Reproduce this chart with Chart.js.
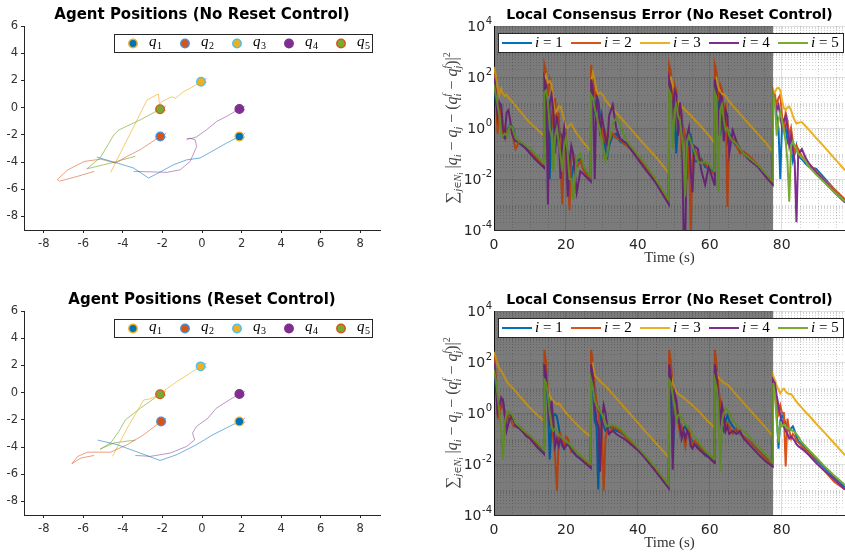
<!DOCTYPE html>
<html>
<head>
<meta charset="utf-8">
<script src="https://cdn.jsdelivr.net/npm/chart.js@4.4.1/dist/chart.umd.min.js"></script>
<style>
html,body{margin:0;padding:0;background:#fff;overflow:hidden}
#wrap{position:relative;width:845px;height:556px;overflow:hidden;background:#fff}
.box{position:absolute}
canvas{display:block}
</style>
</head>
<body>
<div id="wrap">
  <div class="box" style="left:0;top:0"><canvas id="posTop" width="400" height="280"></canvas></div>
  <div class="box" style="left:420px;top:0"><canvas id="errTop" width="425" height="280"></canvas></div>
  <div class="box" style="left:0;top:285px"><canvas id="posBot" width="400" height="280"></canvas></div>
  <div class="box" style="left:420px;top:285px"><canvas id="errBot" width="425" height="280"></canvas></div>
</div>
<script>
// ---- agent trajectories, no reset control (x / y per agent) ----
const q1xTop = [-5.32, -4.28, -3.45, -2.7, -2.2, -1.44, -0.77, -0.1, 0.4, 1.24, 1.89];
const q1yTop = [-3.64, -4.08, -4.45, -5.18, -4.8, -4.2, -3.84, -3.71, -3.3, -2.61, -2.12];
const q2xTop = [-5.45, -6.28, -7.2, -7.32, -6.78, -5.95, -5.12, -4.37, -3.78, -3.12, -2.62, -2.11];
const q2yTop = [-4.69, -5.05, -5.41, -5.29, -4.57, -3.96, -3.79, -4.08, -3.58, -3.09, -2.61, -2.12];
const q3xTop = [-4.62, -3.45, -2.78, -2.2, -2.15, -2.03, -1.52, -1.35, -0.94, -0.6, -0.05];
const q3yTop = [-4.76, -1.39, 0.56, 1.0, 0.2, 0.44, 0.8, 0.68, 1.17, 1.42, 1.9];
const q4xTop = [-3.45, -1.77, -1.1, -0.6, -0.27, -0.35, -0.6, -0.77, -0.5, -0.27, 0.23, 0.74, 1.3, 1.89];
const q4yTop = [-4.69, -4.76, -4.57, -3.96, -2.86, -2.37, -2.25, -2.32, -2.26, -2.15, -1.63, -1.02, -0.6, -0.1];
const q5xTop = [-3.37, -4.62, -5.82, -5.13, -4.46, -4.2, -3.12, -2.12];
const q5yTop = [-3.58, -4.08, -4.5, -3.66, -2.0, -1.64, -0.9, -0.12];

// ---- agent trajectories, reset control ----
const q1xBot = [-5.28, -4.28, -3.12, -2.12, -1.28, -0.28, 0.55, 1.38, 1.89];
const q1yBot = [-3.49, -3.83, -4.45, -4.99, -4.57, -3.83, -3.1, -2.49, -2.12];
const q2xBot = [-5.45, -6.12, -6.58, -6.28, -5.78, -4.62, -3.78, -2.95, -2.07];
const q2yBot = [-4.62, -4.81, -5.23, -4.69, -4.38, -4.38, -3.83, -3.1, -2.12];
const q3xBot = [-4.53, -3.78, -2.95, -2.7, -2.37, -2.03, -1.28, -0.62, -0.07];
const q3yBot = [-4.69, -2.61, -0.54, -0.49, -0.29, 0.02, 0.8, 1.41, 1.93];
const q4xBot = [-3.37, -2.62, -1.62, -0.78, -0.37, -0.48, -0.28, 0.3, 0.72, 1.38, 1.89];
const q4yBot = [-4.62, -4.69, -4.45, -3.96, -3.47, -2.98, -2.49, -1.88, -1.15, -0.54, -0.1];
const q5xBot = [-3.37, -4.45, -5.15, -4.62, -4.2, -3.87, -3.12, -2.12];
const q5yBot = [-3.49, -3.7, -4.16, -3.7, -2.85, -2.0, -1.15, -0.12];

// formation targets (the small x marks)
const tgtX = [2.05, -1.93, 0.1, 2.05, -1.95];
const tgtY = [-2.04, -2.04, 2.0, -0.04, -0.05];

const agentLabels = ['q1', 'q2', 'q3', 'q4', 'q5'];
const posXTicks = [-8, -6, -4, -2, 0, 2, 4, 6, 8];
const posYTicks = [-8, -6, -4, -2, 0, 2, 4, 6];

// ---- consensus error: shared time samples (s) ----
const T = [
  0, 0.5, 1, 1.5, 2, 2.5, 3, 3.5, 4, 4.5, 5, 5.5, 6, 7, 8, 9, 10, 12, 13.9,
  14, 14.5, 15, 15.5, 16, 16.5, 17, 17.5, 18, 18.5, 19, 19.5, 20, 20.5, 21, 21.5, 22, 23, 24, 25, 26.9,
  27, 27.5, 28, 28.5, 29, 29.5, 30, 30.5, 31, 31.5, 32, 33, 34, 35, 36, 37, 38, 40, 42, 45, 48.6,
  48.7, 49.2, 49.7, 50.2, 50.7, 51.2, 51.7, 52.2, 52.7, 53.2, 53.7, 54.2, 54.7, 55.2, 55.7, 56.7, 57.7, 58.7, 59.7, 61.3,
  61.4, 61.9, 62.4, 62.9, 63.4, 63.9, 64.4, 64.9, 65.4, 66.4, 67.4, 68.4, 69.4, 71.4, 73.4, 75.4, 77.5,
  77.6, 78.1, 78.6, 79.1, 79.6, 80.1, 80.6, 81.1, 81.6, 82.1, 82.6, 83.1, 83.6, 84.1, 84.6, 85.6, 86.6, 87.6, 89.6, 91.6, 94.6, 97.6
];

// top right panel
const errTop1 = [
  100, 10, 5, 2, 1, 0.5, 0.4, 0.5, 1, 1.3, 1.2, 0.8, 0.4, 0.25, 0.2, 0.15, 0.12, 0.06, 0.03,
  100, 60, 5, 0.01, 2, 8, 1, 0.3, 0.8, 0.6, 0.4, 0.2, 0.3, 0.1, 0.03, 0.01, 0.03, 0.05, 0.06, 0.03, 0.01,
  60, 20, 5, 10, 12, 3, 0.5, 0.8, 0.15, 0.08, 0.2, 0.5, 0.6, 0.3, 0.25, 0.2, 0.15, 0.07, 0.03, 0.008, 0.0012,
  50, 20, 10, 3, 0.1, 2, 1.5, 0.3, 0.8, 0.4, 0.1, 0.3, 0.5, 0.2, 0.05, 0.05, 0.06, 0.03, 0.025, 0.018,
  50, 20, 8, 0.5, 3, 5, 1, 0.3, 0.6, 0.3, 0.2, 0.12, 0.1, 0.06, 0.03, 0.015, 0.007,
  10, 15, 3, 1, 0.01, 1.5, 2, 1, 0.3, 0.5, 0.15, 0.05, 0.1, 0.2, 0.08, 0.06, 0.04, 0.03, 0.025, 0.012, 0.004, 0.0015
];
const errTop2 = [
  200, 30, 0.6, 8, 3, 0.6, 1, 0.5, 0.9, 1.2, 0.8, 0.3, 0.15, 0.3, 0.25, 0.15, 0.12, 0.06, 0.03,
  300, 150, 20, 80, 40, 1, 15, 0.8, 4, 0.05, 0.001, 0.3, 0.5, 0.02, 0.0006, 0.1, 0.08, 0.03, 0.05, 0.02, 0.01,
  300, 100, 20, 25, 5, 2, 1, 0.3, 0.6, 0.25, 0.3, 0.6, 0.4, 0.35, 0.25, 0.2, 0.15, 0.07, 0.03, 0.008, 0.0012,
  300, 150, 8, 50, 30, 2, 8, 0.1, 1, 0.5, 0.01, 0.2, 0.00008, 0.05, 0.15, 0.08, 0.05, 0.04, 0.025, 0.015,
  300, 150, 20, 50, 30, 3, 10, 0.0008, 0.3, 0.4, 0.2, 0.1, 0.12, 0.07, 0.035, 0.016, 0.007,
  30, 20, 8, 15, 20, 3, 1, 4, 2, 0.5, 1, 0.3, 0.1, 0.2, 0.15, 0.08, 0.05, 0.04, 0.02, 0.01, 0.004, 0.0016
];
const errTop3 = [
  250, 120, 40, 20, 35, 22, 18, 20, 16, 13, 11, 9, 7.5, 5, 3.4, 2.3, 1.6, 0.9, 0.5,
  80, 120, 60, 70, 50, 10, 4, 5, 7, 7, 4, 2, 1.1, 1, 1.3, 1.5, 1.1, 0.6, 0.4, 0.25, 0.13,
  60, 150, 80, 30, 20, 25, 22, 18, 12, 10, 8, 5.7, 4, 2.75, 1.9, 1.32, 0.92, 0.44, 0.21, 0.073, 0.017,
  60, 90, 50, 22, 15, 10, 8, 7, 6, 5, 4.3, 3.6, 3.1, 2.6, 2.2, 1.55, 1.1, 0.76, 0.53, 0.27,
  40, 80, 40, 25, 22, 21, 18, 14, 11, 7.5, 5.2, 3.6, 2.5, 1.2, 0.58, 0.28, 0.12,
  30, 25, 35, 38, 30, 12, 6, 5, 6.5, 7, 5, 3, 2, 1.5, 1.6, 1.7, 1.2, 0.85, 0.4, 0.2, 0.066, 0.022
];
const errTop4 = [
  90, 20, 3, 10, 8, 1, 0.5, 4, 5, 2, 0.6, 0.4, 0.3, 0.3, 0.2, 0.15, 0.1, 0.05, 0.028,
  80, 40, 0.001, 10, 20, 5, 0.1, 3, 0.5, 0.01, 0.3, 1, 0.2, 0.002, 0.05, 0.2, 0.1, 0.003, 0.02, 0.015, 0.008,
  80, 30, 0.01, 20, 8, 0.5, 3, 1, 0.4, 0.2, 3, 8, 1, 0.4, 0.3, 0.25, 0.15, 0.06, 0.025, 0.007, 0.001,
  80, 40, 2, 30, 20, 0.5, 10, 3, 0.0001, 0.00008, 0.5, 1, 0.02, 0.003, 0.2, 0.15, 0.02, 0.006, 0.03, 0.006,
  80, 30, 0.5, 20, 15, 0.3, 5, 3, 0.1, 0.8, 0.3, 0.15, 0.1, 0.05, 0.03, 0.013, 0.006,
  20, 10, 5, 8, 3, 1, 2, 3, 1, 0.2, 0.5, 0.15, 0.05, 0.0002, 0.1, 0.15, 0.07, 0.04, 0.018, 0.009, 0.003, 0.0012
];
const errTop5 = [
  50, 20, 8, 3, 0.6, 0.5, 0.6, 0.5, 0.8, 1.2, 1.1, 0.7, 0.4, 0.3, 0.25, 0.2, 0.17, 0.08, 0.04,
  25, 30, 10, 1, 0.5, 0.02, 0.5, 1, 0.3, 0.08, 0.02, 0.2, 0.4, 0.1, 0.01, 0.01, 0.0015, 0.06, 0.1, 0.03, 0.012,
  20, 15, 6, 3, 1.5, 0.8, 0.3, 0.1, 0.05, 0.1, 0.3, 1.5, 2.5, 1.5, 0.6, 0.3, 0.2, 0.09, 0.04, 0.01, 0.0015,
  30, 20, 0.15, 5, 8, 3, 2, 0.5, 0.1, 0.002, 0.3, 0.5, 0.3, 0.2, 0.12, 0.05, 0.04, 0.05, 0.04, 0.02,
  25, 15, 0.003, 5, 8, 2, 0.8, 1, 0.5, 0.3, 0.25, 0.15, 0.1, 0.06, 0.035, 0.017, 0.008,
  20, 10, 0.5, 2, 4, 2, 0.8, 0.3, 0.05, 0.0013, 0.2, 0.3, 0.2, 0.15, 0.1, 0.07, 0.05, 0.03, 0.015, 0.008, 0.003, 0.0013
];

// bottom right panel
const errBot1 = [
  100, 10, 3, 1, 2, 3, 1, 0.5, 0.6, 0.8, 0.7, 0.5, 0.35, 0.3, 0.22, 0.15, 0.12, 0.06, 0.03,
  100, 30, 2, 0.015, 0.4, 0.8, 0.9, 0.7, 0.3, 0.1, 0.05, 0.04, 0.06, 0.06, 0.05, 0.04, 0.03, 0.02, 0.016, 0.012, 0.008,
  50, 10, 0.5, 0.3, 0.001, 1, 0.5, 0.3, 0.2, 0.25, 0.3, 0.25, 0.2, 0.18, 0.14, 0.1, 0.075, 0.04, 0.02, 0.006, 0.0013,
  50, 10, 0.02, 0.5, 0.8, 0.5, 0.3, 0.15, 0.25, 0.3, 0.2, 0.15, 0.1, 0.08, 0.06, 0.05, 0.035, 0.025, 0.02, 0.012,
  50, 10, 3, 1, 0.3, 0.2, 0.5, 0.8, 0.5, 0.3, 0.2, 0.15, 0.12, 0.07, 0.035, 0.018, 0.009,
  15, 8, 1, 0.04, 0.5, 0.8, 0.6, 0.4, 0.3, 0.2, 0.25, 0.3, 0.2, 0.12, 0.08, 0.06, 0.04, 0.03, 0.015, 0.008, 0.003, 0.0012
];
const errBot2 = [
  200, 30, 1, 0.6, 3, 2, 0.8, 0.5, 0.8, 0.7, 0.4, 0.3, 0.35, 0.3, 0.2, 0.13, 0.1, 0.05, 0.025,
  300, 100, 5, 2, 0.5, 0.1, 0.02, 0.0009, 0.1, 0.15, 0.08, 0.05, 0.12, 0.1, 0.05, 0.03, 0.04, 0.03, 0.02, 0.015, 0.008,
  300, 100, 10, 3, 1, 0.3, 0.2, 0.0009, 0.1, 0.2, 0.15, 0.3, 0.25, 0.2, 0.15, 0.1, 0.075, 0.04, 0.02, 0.006, 0.0012,
  300, 100, 10, 5, 3, 0.5, 0.15, 0.3, 0.15, 0.05, 0.15, 0.25, 0.1, 0.05, 0.08, 0.06, 0.04, 0.03, 0.025, 0.015,
  300, 80, 10, 3, 1, 0.5, 0.2, 0.4, 0.3, 0.15, 0.25, 0.15, 0.12, 0.07, 0.035, 0.017, 0.009,
  20, 10, 3, 1, 2, 1, 1, 0.008, 0.6, 0.2, 0.1, 0.15, 0.12, 0.08, 0.07, 0.05, 0.035, 0.025, 0.012, 0.006, 0.002, 0.001
];
const errBot3 = [
  250, 150, 80, 55, 45, 35, 25, 18, 14, 12, 10, 8.5, 7, 4.8, 3.3, 2.3, 1.6, 0.85, 0.5,
  40, 30, 8, 5, 3.5, 3, 2.5, 2.2, 2.4, 2, 1.6, 1.3, 1, 0.85, 0.72, 0.6, 0.5, 0.36, 0.26, 0.19, 0.12,
  50, 80, 30, 25, 22, 18, 15, 13, 11, 9.5, 8, 5.5, 3.8, 2.6, 1.8, 1.25, 0.87, 0.42, 0.2, 0.066, 0.018,
  20, 30, 15, 9, 7, 5.5, 5, 4.5, 4, 3.5, 3, 2.6, 2.3, 2, 1.7, 1.25, 0.9, 0.62, 0.44, 0.27,
  30, 40, 25, 20, 18, 15, 14, 13, 11, 7.5, 5.2, 3.6, 2.5, 1.2, 0.58, 0.28, 0.13,
  30, 20, 12, 8, 6, 8, 9, 7, 6, 5.5, 5.5, 4.5, 3.5, 2.8, 2.3, 1.6, 1.1, 0.8, 0.38, 0.19, 0.065, 0.022
];
const errBot4 = [
  90, 15, 1, 2, 4, 3, 0.8, 0.2, 0.4, 0.6, 0.7, 0.5, 0.3, 0.25, 0.18, 0.12, 0.1, 0.045, 0.025,
  80, 30, 5, 0.3, 3, 0.5, 0.05, 0.1, 0.05, 0.1, 0.06, 0.04, 0.05, 0.06, 0.05, 0.04, 0.03, 0.02, 0.016, 0.012, 0.007,
  80, 30, 2, 0.5, 0.3, 0.005, 0.5, 2, 1, 0.3, 0.15, 0.2, 0.15, 0.12, 0.1, 0.08, 0.06, 0.035, 0.017, 0.005, 0.0011,
  80, 30, 0.006, 6, 3, 0.8, 0.3, 0.1, 0.2, 0.1, 0.2, 0.15, 0.05, 0.04, 0.06, 0.04, 0.03, 0.022, 0.018, 0.011,
  80, 30, 3, 0.5, 2, 0.8, 0.2, 0.3, 0.15, 0.2, 0.15, 0.2, 0.1, 0.05, 0.025, 0.013, 0.008,
  20, 15, 5, 2, 0.8, 0.5, 0.3, 0.2, 0.15, 0.1, 0.12, 0.1, 0.08, 0.06, 0.05, 0.04, 0.03, 0.022, 0.011, 0.006, 0.0025, 0.001
];
const errBot5 = [
  50, 20, 5, 1, 0.2, 0.015, 0.4, 1, 1.2, 1.1, 0.9, 0.6, 0.4, 0.3, 0.22, 0.17, 0.13, 0.07, 0.035,
  20, 15, 5, 1, 0.3, 0.2, 0.25, 0.2, 0.15, 0.12, 0.1, 0.09, 0.08, 0.07, 0.06, 0.05, 0.04, 0.03, 0.022, 0.016, 0.01,
  20, 10, 3, 2, 1.5, 1.2, 0.9, 0.6, 0.4, 0.3, 0.3, 0.35, 0.3, 0.25, 0.18, 0.12, 0.09, 0.045, 0.022, 0.007, 0.0015,
  20, 15, 5, 2, 0.5, 0.8, 0.9, 0.6, 0.5, 0.4, 0.3, 0.25, 0.2, 0.15, 0.12, 0.08, 0.05, 0.035, 0.025, 0.015,
  20, 10, 2, 0.005, 0.5, 1, 1.5, 1.3, 1, 0.5, 0.35, 0.25, 0.2, 0.1, 0.05, 0.025, 0.011,
  15, 5, 0.5, 0.07, 0.4, 0.3, 0.35, 0.3, 0.25, 0.25, 0.22, 0.2, 0.18, 0.15, 0.12, 0.07, 0.05, 0.035, 0.018, 0.009, 0.0035, 0.0015
];

const timeTicks = [0, 20, 40, 60, 80];
const errExpTicks = [-4, -2, 0, 2, 4];
const timeMax = 97.6;
const shadeEnd = 77.6;   // end of the non-reset (shaded) interval

// ---- styles ----
Chart.defaults.font.family = '"DejaVu Sans", sans-serif';
Chart.defaults.color = '#262626';
const AXIS = '#262626';
const GRID = 'rgba(38,38,38,0.15)';
const SERIF = '"Liberation Serif", "DejaVu Serif", serif';
const colors = ['#0072BD', '#D95319', '#EDB120', '#7E2F8E', '#77AC30'];
const trailColors = ['rgba(0,114,189,0.55)', 'rgba(217,83,25,0.55)', 'rgba(237,177,32,0.65)', 'rgba(126,47,142,0.5)', 'rgba(119,172,48,0.65)'];
const edgeColors = ['#EDB120', '#4A8FD0', '#4DBEEE', '#7E2F8E', '#D95319'];

// legend drawn in a box inside the plot, like the MATLAB one
const boxLegend = {
  id: 'boxLegend',
  afterDraw(chart, args, o) {
    const {ctx, chartArea: a} = chart;
    const items = chart.data.datasets.filter(d => d.inLegend);
    const bx = a.left + o.dx, by = a.top + o.dy, cy = by + o.h / 2;
    ctx.save();
    ctx.fillStyle = '#fff';
    ctx.fillRect(bx, by, o.w, o.h);
    ctx.strokeStyle = AXIS;
    ctx.lineWidth = 1;
    ctx.strokeRect(bx + 0.5, by + 0.5, o.w - 1, o.h - 1);
    ctx.textBaseline = 'alphabetic';
    items.forEach((d, k) => {
      const ix = bx + o.first + k * o.pitch;
      if (o.kind === 'dot') {
        ctx.beginPath();
        ctx.arc(ix, cy, 4.2, 0, Math.PI * 2);
        ctx.fillStyle = d.pointBackgroundColor;
        ctx.fill();
        ctx.lineWidth = 1.5;
        ctx.strokeStyle = d.pointBorderColor;
        ctx.stroke();
        const tx = ix + o.textGap;
        ctx.fillStyle = '#000';
        ctx.font = 'italic 15px ' + SERIF;
        ctx.fillText(d.label[0], tx, cy + 2.5);
        const w = ctx.measureText(d.label[0]).width;
        ctx.font = '10px ' + SERIF;
        ctx.fillText(d.label.slice(1), tx + w + 0.5, cy + 5.5);
      } else {
        ctx.strokeStyle = d.borderColor;
        ctx.lineWidth = 2;
        ctx.beginPath();
        ctx.moveTo(ix, cy);
        ctx.lineTo(ix + o.lineLen, cy);
        ctx.stroke();
        const tx = ix + o.lineLen + 3;
        ctx.fillStyle = '#000';
        ctx.font = 'italic 15px ' + SERIF;
        ctx.fillText(d.label[0], tx, cy + 4);
        const w = ctx.measureText(d.label[0]).width;
        ctx.font = '15px ' + SERIF;
        ctx.fillText(d.label.slice(1), tx + w, cy + 4);
      }
    });
    ctx.restore();
  }
};

// y label pieces: text, size, baseline shift, italic, no advance
const yLabelParts = [
  ['∑', 17, 0, 0], ['j', 10, 4, 1], ['∈', 10, 4, 0], ['N', 10, 4, 1], ['i', 8, 6, 1],
  [' |', 16, 0, 0], ['q', 16, 0, 1], ['i', 10, 4, 1], [' − ', 16, 0, 0], ['q', 16, 0, 1], ['j', 10, 4, 1],
  [' − (', 16, 0, 0], ['q', 16, 0, 1], ['f', 10, -7, 1, 1], ['i', 10, 4, 1], [' − ', 16, 0, 0],
  ['q', 16, 0, 1], ['f', 10, -7, 1, 1], ['j', 10, 4, 1], [')|', 16, 0, 0], ['2', 10, -7, 0]
];

// minor grid, shaded interval, power-of-ten tick labels and the rotated math label
const errorDecor = {
  id: 'errorDecor',
  beforeDatasetsDraw(chart, args, o) {
    const {ctx, chartArea: a, scales: {x, y}} = chart;
    ctx.save();
    ctx.beginPath();
    ctx.rect(a.left, a.top, a.right - a.left, a.bottom - a.top);
    ctx.clip();
    ctx.strokeStyle = 'rgba(38,38,38,0.2)';
    ctx.lineWidth = 1;
    ctx.setLineDash([1, 2]);
    for (let e = -4; e < 4; e++) {
      for (let m = 1; m < 10; m++) {
        if (m === 1 && e % 2 === 0) continue;
        const py = Math.round(y.getPixelForValue(m * Math.pow(10, e))) + 0.5;
        ctx.beginPath(); ctx.moveTo(a.left, py); ctx.lineTo(a.right, py); ctx.stroke();
      }
    }
    for (let t = 5; t < x.max; t += 5) {
      if (t % 20 === 0) continue;
      const px = Math.round(x.getPixelForValue(t)) + 0.5;
      ctx.beginPath(); ctx.moveTo(px, a.top); ctx.lineTo(px, a.bottom); ctx.stroke();
    }
    ctx.setLineDash([]);
    const x0 = x.getPixelForValue(0), x1 = x.getPixelForValue(o.shadeEnd);
    ctx.fillStyle = 'rgba(0,0,0,0.4)';
    ctx.fillRect(x0, a.top, x1 - x0, a.bottom - a.top);
    ctx.restore();
  },
  afterDatasetsDraw(chart, args, o) {
    const {ctx, chartArea: a, scales: {x}} = chart;
    const x0 = x.getPixelForValue(0), x1 = x.getPixelForValue(o.shadeEnd);
    ctx.save();
    ctx.fillStyle = 'rgba(0,0,0,0.2)';
    ctx.fillRect(x0, a.top, x1 - x0, a.bottom - a.top);
    ctx.restore();
  },
  afterDraw(chart, args, o) {
    const {ctx, chartArea: a, scales: {y}} = chart;
    ctx.save();
    // tick labels 10^k with a raised exponent, right-aligned to the axis
    ctx.fillStyle = AXIS;
    ctx.textBaseline = 'middle';
    ctx.textAlign = 'left';
    y.ticks.forEach(t => {
      const py = y.getPixelForValue(t.value);
      const ex = String(Math.round(Math.log10(t.value)));
      ctx.font = '10px "DejaVu Sans"';
      const exW = ctx.measureText(ex).width;
      const exX = a.left - 2 - exW;
      ctx.fillText(ex, exX, py - 5);
      ctx.font = '14px "DejaVu Sans"';
      const baseW = ctx.measureText('10').width;
      ctx.fillText('10', exX - 0.5 - baseW, py + 1);
    });
    // rotated y label
    const font = p => (p[3] ? 'italic ' : '') + p[1] + 'px ' + SERIF;
    let total = 0;
    yLabelParts.forEach(p => { ctx.font = font(p); if (!p[4]) total += ctx.measureText(p[0]).width; });
    ctx.translate(o.labelX, (a.top + a.bottom) / 2);
    ctx.rotate(-Math.PI / 2);
    ctx.fillStyle = '#444';
    ctx.textBaseline = 'alphabetic';
    let cx = -total / 2;
    yLabelParts.forEach(p => {
      ctx.font = font(p);
      ctx.fillText(p[0], cx, 5 + p[2]);
      if (!p[4]) cx += ctx.measureText(p[0]).width;
    });
    ctx.restore();
  }
};

function positionChart(id, title, xs, ys) {
  const datasets = [];
  xs.forEach((xa, k) => {
    datasets.push({
      label: agentLabels[k] + ' path',
      data: xa.map((v, j) => ({x: v, y: ys[k][j]})),
      showLine: true, borderColor: trailColors[k], borderWidth: 1, pointRadius: 0, order: 10
    });
  });
  datasets.push({
    label: 'targets',
    data: tgtX.map((v, j) => ({x: v, y: tgtY[j]})),
    pointStyle: 'crossRot', pointRadius: 3.2, pointBorderColor: 'rgba(150,100,185,0.75)',
    pointBorderWidth: 1, showLine: false, order: 2
  });
  xs.forEach((xa, k) => {
    datasets.push({
      label: agentLabels[k], inLegend: true,
      data: [{x: xa[xa.length - 1], y: ys[k][ys[k].length - 1]}],
      showLine: false, pointRadius: 4.3, pointBackgroundColor: colors[k],
      pointBorderColor: edgeColors[k], pointBorderWidth: 1.3, order: 1
    });
  });
  new Chart(document.getElementById(id), {
    type: 'scatter',
    data: {datasets},
    options: {
      responsive: false, animation: false, events: [],
      layout: {padding: {left: 0, right: 20, top: 0, bottom: 0}},
      plugins: {
        legend: {display: false}, tooltip: {enabled: false},
        title: {display: true, text: title, fullSize: false, color: '#000',
                font: {size: 15, weight: 'bold', lineHeight: 1.2}, padding: {top: 6, bottom: 2}},
        boxLegend: {kind: 'dot', dx: 90, dy: 8, w: 259, h: 19, first: 19, pitch: 52, textGap: 16}
      },
      scales: {
        x: {
          type: 'linear', min: -9, max: 9,
          afterBuildTicks: s => { s.ticks = posXTicks.map(v => ({value: v})); },
          afterFit: s => { s.height = 50; },
          grid: {drawOnChartArea: false, color: AXIS, tickLength: 3},
          border: {color: AXIS},
          ticks: {font: {size: 11.5}, padding: 4, maxRotation: 0, color: '#333'}
        },
        y: {
          type: 'linear', min: -9, max: 6,
          afterBuildTicks: s => { s.ticks = posYTicks.map(v => ({value: v})); },
          afterFit: s => { s.width = 24; },
          grid: {drawOnChartArea: false, color: AXIS, tickLength: 3},
          border: {color: AXIS},
          ticks: {font: {size: 11.5}, padding: 3, color: '#333'}
        }
      }
    },
    plugins: [boxLegend]
  });
}

function errorChart(id, title, series) {
  const datasets = series.map((arr, k) => ({
    label: 'i = ' + (k + 1), inLegend: true,
    data: T.map((t, j) => ({x: t, y: arr[j]})),
    borderColor: colors[k], borderWidth: 2, pointRadius: 0, tension: 0, fill: false, order: 5 - k
  }));
  new Chart(document.getElementById(id), {
    type: 'line',
    data: {datasets},
    options: {
      responsive: false, animation: false, events: [],
      layout: {padding: 0},
      plugins: {
        legend: {display: false}, tooltip: {enabled: false},
        title: {display: true, text: title, fullSize: false, color: '#000',
                font: {size: 14, weight: 'bold'}, padding: {top: 7, bottom: 2.2}},
        boxLegend: {kind: 'line', dx: 4, dy: 7, w: 346, h: 20, first: 4, pitch: 69, lineLen: 30},
        errorDecor: {shadeEnd: shadeEnd, labelX: 32}
      },
      scales: {
        x: {
          type: 'linear', min: 0, max: timeMax,
          afterBuildTicks: s => { s.ticks = timeTicks.map(v => ({value: v})); },
          afterFit: s => { s.height = 50; },
          grid: {color: GRID, drawTicks: false},
          border: {color: AXIS},
          ticks: {font: {size: 14}, padding: 7, maxRotation: 0, color: AXIS},
          title: {display: true, text: 'Time (s)', color: '#333',
                  font: {family: SERIF, size: 15}, padding: {top: 0, bottom: 13}}
        },
        y: {
          type: 'logarithmic', min: 1e-4, max: 1e4,
          afterBuildTicks: s => { s.ticks = errExpTicks.map(e => ({value: Math.pow(10, e)})); },
          afterFit: s => { s.width = 74; },
          grid: {color: GRID, drawTicks: false},
          border: {color: AXIS},
          ticks: {display: false}
        }
      }
    },
    plugins: [errorDecor, boxLegend]
  });
}

positionChart('posTop', 'Agent Positions (No Reset Control)',
  [q1xTop, q2xTop, q3xTop, q4xTop, q5xTop], [q1yTop, q2yTop, q3yTop, q4yTop, q5yTop]);
positionChart('posBot', 'Agent Positions (Reset Control)',
  [q1xBot, q2xBot, q3xBot, q4xBot, q5xBot], [q1yBot, q2yBot, q3yBot, q4yBot, q5yBot]);
errorChart('errTop', 'Local Consensus Error (No Reset Control)', [errTop1, errTop2, errTop3, errTop4, errTop5]);
errorChart('errBot', 'Local Consensus Error (No Reset Control)', [errBot1, errBot2, errBot3, errBot4, errBot5]);
</script>
</body>
</html>
